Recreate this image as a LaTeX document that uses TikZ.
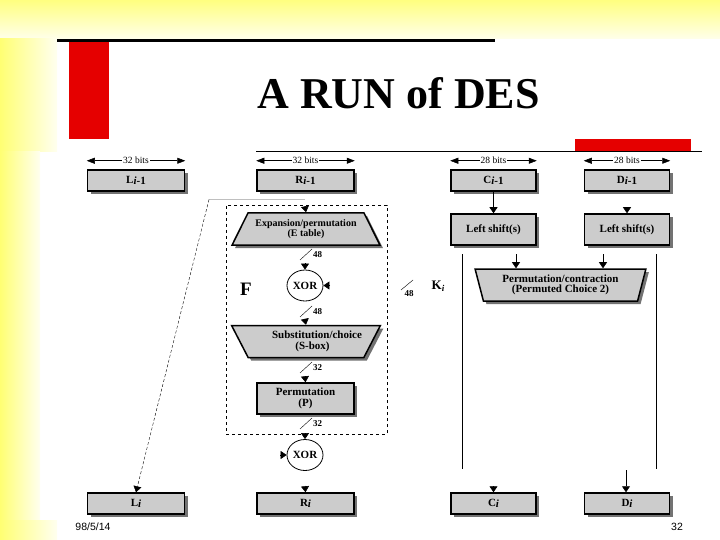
\documentclass[tikz,border=0pt]{standalone}
\usepackage{fontspec}
\setmainfont{Liberation Serif}
\newfontfamily\slidefont{Liberation Sans}
\usepackage{tikz}
\usetikzlibrary{arrows.meta}
\usetikzlibrary{shapes.geometric}
\usetikzlibrary{shadows}
\tikzset{basic/.style={draw=black,line width=1.5pt,fill=black!20,
                       font=\bfseries\fontsize{11}{10.5}\selectfont,align=center,
                       drop shadow={shadow xshift=3pt,shadow yshift=-3pt,fill=black!55,opacity=1}}}
\tikzset{wordbox/.style={basic,minimum width=97pt,minimum height=21pt,inner sep=0pt}}
\tikzset{keybox/.style={basic,minimum width=85pt,minimum height=21pt,inner sep=0pt}}
\tikzset{funnel/.style={basic,trapezium,trapezium stretches=true,inner sep=0pt,minimum height=32pt}}
\newcommand{\lowidx}[1]{\raisebox{-1.5pt}{#1}}

\begin{document}
\begin{tikzpicture}[x=1pt,y=-1pt,>={Triangle[width=8pt,length=6pt]}]
    \tikzstyle{xorgate}=[ellipse,draw=black,line width=0.8pt,fill=white,minimum width=36pt,
                         minimum height=31pt,inner sep=0pt,font=\bfseries\fontsize{11}{12}\selectfont]
    \tikzstyle{annot}=[font=\bfseries\fontsize{9}{10}\selectfont,inner sep=0pt]
    \tikzstyle{span}=[<->,>={Triangle[width=6pt,length=8pt]},line width=0.5pt]
    \tikzstyle{feed}=[->,line width=0.6pt]

    \useasboundingbox (0,0) rectangle (720,540);

    % Draw the slide background
    \fill[white] (0,0) rectangle (720,540);
    \shade[top color=yellow!50,bottom color=yellow!8] (0,0) rectangle (720,39);
    \foreach \x / \ya / \yb in {57/39/152,40/152/520,57/520/540}
        \shade[left color=yellow!55,right color=yellow!6] (0,\ya) rectangle (\x,\yb);
    \fill[black] (57,39.5) rectangle (495,42.5);
    \fill[red!90!black] (69,42.5) rectangle (109,139);
    \fill[red!90!black] (575,139) rectangle (691,151);
    \draw[line width=0.8pt] (256,151.5) -- (702,151.5);
    \node[font=\bfseries\fontsize{44}{46}\selectfont,inner sep=0pt] (title) at (398.5,93) {A RUN of DES};
    \node[font=\slidefont\fontsize{10.5}{12}\selectfont,inner sep=0pt] (date) at (93,527) {98/5/14};
    \node[font=\slidefont\fontsize{10.5}{12}\selectfont,inner sep=0pt] (page) at (677,527) {32};

    % Draw the top and bottom rows of registers
    \foreach \name / \x / \txt in {L/136/L,R/305.5/R}
    {
        \node[wordbox] (\name-in) at (\x,180.5) {\txt\lowidx{\textit{i}-1}};
        \node[wordbox] (\name-out) at (\x,503.5) {\txt\lowidx{\textit{i}}};
    }
    \foreach \name / \x / \txt in {C/493.5/C,D/627/D}
    {
        \node[keybox] (\name-in) at (\x,180.5) {\txt\lowidx{\textit{i}-1}};
        \node[keybox] (\name-shift) at (\x,229.5) [minimum height=31pt] {Left shift(s)};
        \node[keybox] (\name-out) at (\x,503.5) {\txt\lowidx{\textit{i}}};
    }

    % Draw the width marks over the top row
    \foreach \name / \txt in {L/32,R/32,C/28,D/28}
    {
        \coordinate (\name-a) at ([yshift=8.5pt]\name-in.north west);
        \coordinate (\name-b) at ([yshift=8.5pt]\name-in.north east);
        \draw[span] (\name-a) -- node[font=\fontsize{9.5}{10}\selectfont,inner sep=0pt,fill=white,inner xsep=1pt] (\name-width) {\txt{} bits} (\name-b);
    }

    % Draw the F function
    \node[draw=black,dashed,line width=0.6pt,minimum width=161pt,minimum height=229pt,inner sep=0pt] (F-box) at (306.5,319.5) {};
    \node[font=\bfseries\fontsize{19}{20}\selectfont,inner sep=0pt] (F-label) at (246,289) {F};
    \node[funnel,trapezium left angle=54,trapezium right angle=54,minimum width=148pt,
          font=\bfseries\fontsize{10}{10}\selectfont] (E) at (306,229)
        {Expansion/permutation\\(E table)};
    \node[xorgate] (X-1) at (305,285.5) {XOR};
    \node[funnel,shape border rotate=180,trapezium left angle=52,trapezium right angle=52,minimum width=149pt] (S) at (306,341.5)
        {\hspace*{22pt}Substitution/choice\\\hspace*{13pt}(S-box)};
    \node[wordbox,minimum height=31pt] (P) at (305.5,398.5) {Permutation\\(P)};
    \node[xorgate] (X-2) at (305,455) {XOR};

    % Draw the key schedule contraction
    \node[funnel,shape border rotate=180,trapezium left angle=73,trapezium right angle=73,minimum width=171pt] (K) at (560.5,285)
        {Permutation/contraction\\(Permuted Choice 2)};
    \node[font=\bfseries\fontsize{13}{15}\selectfont,inner sep=0pt] (K-label) at (438,286) {K\lowidx{\fontsize{9}{10}\selectfont\textit{i}}};

    % Free ends of the connectors
    \foreach \name / \x / \y in {e/305/207,x/305/263,s/305/320,p/305/377,o/305/486,
                                 d/627/208,ci/493.5/487,cl/516/254,dl/603/254,dd/626/470}
        \coordinate (end-\name) at (\x,\y);
    \coordinate (end-xr) at (330,285.5);
    \coordinate (end-xl) at (280,455);
    \coordinate (end-xt) at (305,434);
    \coordinate (bend) at (209,199.5);
    \coordinate (bend-r) at (305,199.5);
    \coordinate (C-top) at (462,254);
    \coordinate (C-bot) at (462,469);
    \coordinate (D-top) at (656,254);
    \coordinate (D-bot) at (656,469);

    % Connect the blocks
    \draw[feed] (end-e) -- (E.north);
    \draw[feed] (end-x) -- (X-1.north);
    \draw[feed] (end-xr) -- (X-1.east);
    \draw[feed] (end-s) -- (S.north);
    \draw[feed] (end-p) -- (P.north);
    \draw[feed] (end-xt) -- (X-2.north);
    \draw[feed] (end-xl) -- (X-2.west);
    \draw[feed] (end-o) -- (R-out.north);
    \draw[feed] (C-in) -- (C-shift);
    \draw[feed] (end-d) -- (D-shift.north);
    \draw[feed] (end-ci) -- (C-out.north);
    \draw[feed] (end-dd) -- (end-dd |- D-out.north);
    \draw[feed] (end-cl) -- (end-cl |- K.north);
    \draw[feed] (end-dl) -- (end-dl |- K.north);
    \draw[line width=0.7pt] (C-top) -- (C-bot);
    \draw[line width=0.7pt] (D-top) -- (D-bot);

    % The crossing from the right half to the left half
    \draw[black!25,line width=0.6pt] (bend) -- (bend-r);
    \draw[feed,densely dashed,line width=0.4pt] (bend) -- (L-out.north);

    % Draw the bus width ticks
    \foreach \name / \y / \txt in {a/260/48,b/317/48,c/373/32,d/429/32}
    {
        \coordinate (tick-\name-s) at (300,\y);
        \coordinate (tick-\name-e) at (312,\y-11);
        \draw[line width=0.4pt] (tick-\name-s) -- (tick-\name-e);
        \node[annot,anchor=west] (tick-\name) at (313,\y-5) {\txt};
    }
    \coordinate (tick-k-s) at (401,290);
    \coordinate (tick-k-e) at (413,280);
    \draw[line width=0.4pt] (tick-k-s) -- (tick-k-e);
    \node[annot] (tick-k) at (409,293.5) {48};
\end{tikzpicture}
\end{document}
